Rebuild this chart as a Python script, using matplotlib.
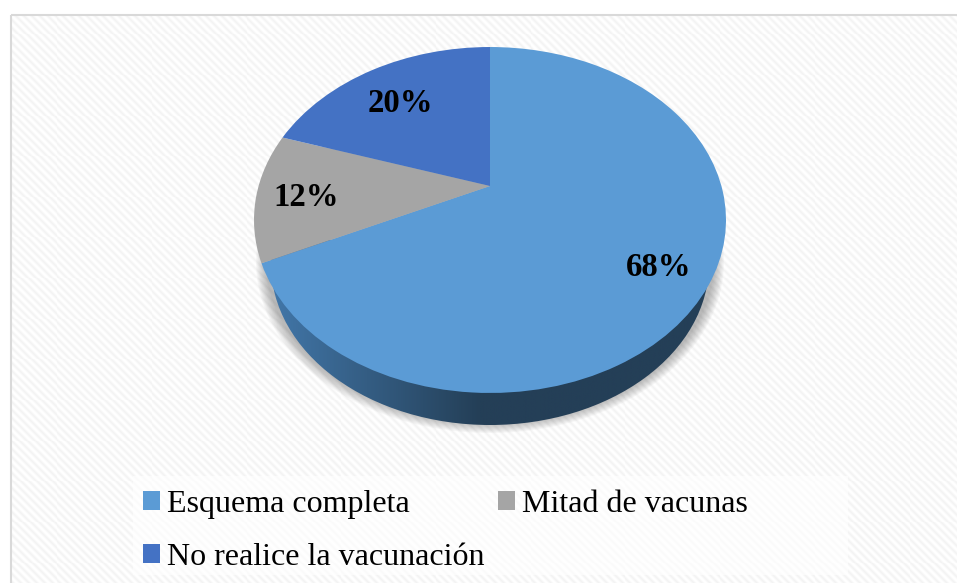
import numpy as np
import matplotlib
matplotlib.use("Agg")
import matplotlib.pyplot as plt
from matplotlib.patches import Ellipse, Rectangle, Patch
from matplotlib.transforms import Transform
from matplotlib.colors import LinearSegmentedColormap

labels = ["Esquema completa", "Mitad de vacunas", "No realice la vacunación"]
values = [68, 12, 20]
colors = ["#5B9BD5", "#A5A5A5", "#4472C4"]
label_xy = [(658.5, 267), (306, 198), (400, 103)]

W, H = 957, 583
plt.rcParams["font.family"] = ["Liberation Serif", "DejaVu Serif"]

fig = plt.figure(figsize=(W / 100, H / 100), dpi=100, facecolor="white")
ax = fig.add_axes([0, 0, 1, 1])


class Tilt(Transform):
    """Perspective view of the unit-circle pie, in pixel coordinates."""
    input_dims = output_dims = 2
    is_affine = False
    has_inverse = False
    cx, cy, ax_, ay_, p = 490.0, 186.0, 231.4, 166.3, 0.1965

    def transform_non_affine(self, xy):
        xy = np.asarray(xy, float)
        d = 1 + self.p * xy[:, 1]
        return np.column_stack((self.cx + self.ax_ * xy[:, 0] / d,
                                self.cy - self.ay_ * xy[:, 1] / d))


# Pie slices
wedges, _ = ax.pie(values, colors=colors, startangle=90, counterclock=False, radius=1)
ax.set_aspect("auto")
tilt = Tilt()
for w in wedges:
    w.set_transform(tilt + ax.transData)
    w.set_zorder(5)
    w.set_linewidth(0)

# Striped background
yy, xx = np.mgrid[0:H, 0:W]
phase = ((xx - yy) % 8) / 8.0
stripes = 0.978 + 0.022 * np.cos(2 * np.pi * phase)
stripes = np.clip(stripes, 0, 1)
ax.imshow(stripes, cmap="gray", vmin=0, vmax=1, extent=(10, W, H, 14), zorder=0,
          aspect="auto", interpolation="nearest")
ax.add_patch(Rectangle((11, 15), W + 20, H + 20, fill=False, ec="#D9D9D9", lw=1.5, zorder=1))

# Soft shadow below the disc
for e in range(0, 11):
    ax.add_patch(Ellipse((490, 262), 2 * (224 + e), 2 * (161 + e), fc="#555555", ec="none",
                         alpha=0.045, zorder=2))

# Side wall
wall = Ellipse((490, 264), 2 * 219, 2 * 161, fc="none", ec="none", zorder=3)
ax.add_patch(wall)
cmap = LinearSegmentedColormap.from_list("wall", [(0, "#4379AC"), (0.47, "#243F57"), (1, "#243F57")])
grad = np.linspace(0, 1, 512)[None, :]
img = ax.imshow(grad, cmap=cmap, extent=(262, 725, 430, 240), aspect="auto", zorder=3)
img.set_clip_path(wall)

# Percent labels
for v, (x, y) in zip(values, label_xy):
    ax.text(x, y, f"{v}%", ha="center", va="center", fontsize=23.6, fontweight="bold",
            color="black", zorder=6)

# Legend
ax.add_patch(Rectangle((133, 476), 715, 99, fc="white", ec="none", alpha=0.65, zorder=1.5))
order = [0, 2, 1]
handles = [Patch(fc=colors[i], ec="none") for i in order]
ax.legend(handles, [labels[i] for i in order], ncol=2, frameon=False, fontsize=23,
          loc="upper left", bbox_to_anchor=(143, 490), bbox_transform=ax.transData,
          borderpad=0, borderaxespad=0, handlelength=0.53, handleheight=0.53,
          handletextpad=0.22, columnspacing=0.42, labelspacing=0.74)

ax.set_xlim(0, W)
ax.set_ylim(H, 0)
ax.axis("off")
fig.savefig("out.png", dpi=100)
